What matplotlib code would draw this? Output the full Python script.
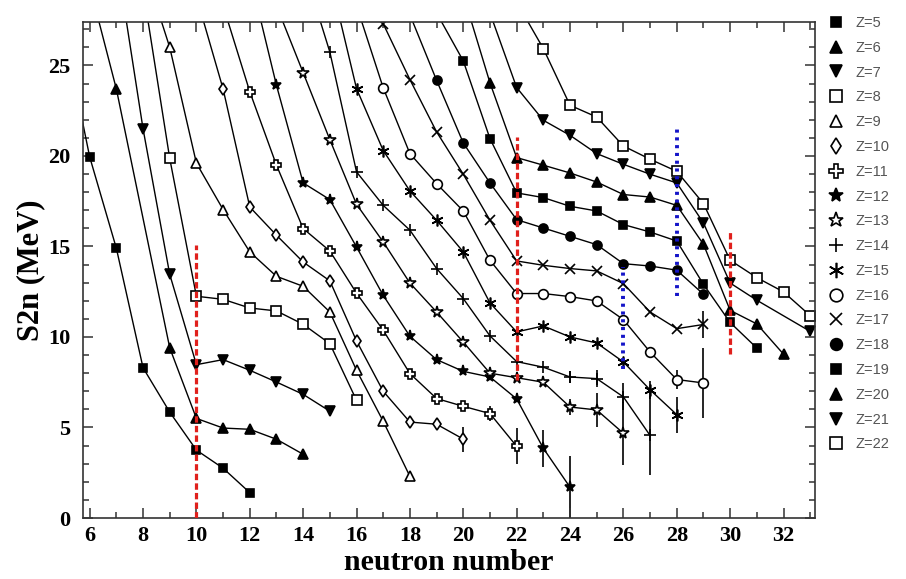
import matplotlib
matplotlib.use('Agg')
import matplotlib.pyplot as plt
from matplotlib.lines import Line2D
from matplotlib.ticker import MultipleLocator

# --- data: two-neutron separation energy vs neutron number, one isotope chain per Z ---
n5 = [5, 6, 7, 8, 9, 10, 11, 12]
z5 = [27.2, 19.95, 14.9, 8.3, 5.85, 3.75, 2.75, 1.4]
n6 = [6, 7, 9, 10, 11, 12, 13, 14]
z6 = [29.4, 23.7, 9.4, 5.5, 4.97, 4.9, 4.35, 3.52]
n7 = [7, 8, 9, 10, 11, 12, 13, 14, 15]
z7 = [31.0, 21.5, 13.46, 8.47, 8.75, 8.16, 7.51, 6.83, 5.9]
n8 = [8, 9, 10, 11, 12, 13, 14, 15, 16]
z8 = [29.2, 19.86, 12.25, 12.08, 11.6, 11.44, 10.7, 9.63, 6.5]
n9 = [8, 9, 10, 11, 12, 13, 14, 15, 16, 17, 18]
z9 = [30.6, 26.0, 19.6, 17.04, 14.7, 13.35, 12.8, 11.38, 8.16, 5.34, 2.3]
n10 = [10, 11, 12, 13, 14, 15, 16, 17, 18, 19, 20]
z10 = [28.8, 23.7, 17.18, 15.62, 14.14, 13.1, 9.78, 7.0, 5.3, 5.18, 4.36]
n11 = [11, 12, 13, 14, 15, 16, 17, 18, 19, 20, 21, 22]
z11 = [28.3, 23.55, 19.49, 15.99, 14.75, 12.42, 10.37, 7.98, 6.6, 6.17, 5.77, 3.96]
n12 = [12, 13, 14, 15, 16, 17, 18, 19, 20, 21, 22, 23, 24]
z12 = [30.0, 23.9, 18.51, 17.59, 14.97, 12.3, 10.04, 8.75, 8.1, 7.79, 6.58, 3.85, 1.7]
n13 = [13, 14, 15, 16, 17, 18, 19, 20, 21, 22, 23, 24, 25, 26]
z13 = [28.3, 24.6, 20.9, 17.33, 15.25, 12.98, 11.38, 9.72, 8.0, 7.75, 7.5, 6.13, 5.97, 4.68]
n14 = [14, 15, 16, 17, 18, 19, 20, 21, 22, 23, 24, 25, 26, 27]
z14 = [30.5, 25.74, 19.12, 17.27, 15.9, 13.78, 12.12, 10.06, 8.64, 8.33, 7.79, 7.7, 6.69, 4.56]
n15 = [15, 16, 17, 18, 19, 20, 21, 22, 23, 24, 25, 26, 27, 28]
z15 = [29.9, 23.72, 20.3, 18.07, 16.45, 14.7, 11.88, 10.28, 10.61, 10.0, 9.67, 8.62, 7.08, 5.71]
n16 = [16, 17, 18, 19, 20, 21, 22, 23, 24, 25, 26, 27, 28, 29]
z16 = [28.3, 23.76, 20.13, 18.47, 16.96, 14.24, 12.4, 12.4, 12.23, 11.99, 10.96, 9.17, 7.65, 7.46]
n17 = [17, 18, 19, 20, 21, 22, 23, 24, 25, 26, 27, 28, 29]
z17 = [27.3, 24.22, 21.33, 18.99, 16.45, 14.2, 13.96, 13.78, 13.65, 12.95, 11.38, 10.46, 10.69]
n18 = [18, 19, 20, 21, 22, 23, 24, 25, 26, 27, 28, 29]
z18 = [27.8, 24.18, 20.72, 18.51, 16.48, 16.02, 15.56, 15.1, 14.05, 13.92, 13.69, 12.36]
n19 = [19, 20, 21, 22, 23, 24, 25, 26, 27, 28, 29, 30, 31]
z19 = [27.9, 25.25, 20.96, 17.96, 17.7, 17.22, 16.96, 16.21, 15.8, 15.3, 12.91, 10.8, 9.39]
n20 = [20, 21, 22, 23, 24, 25, 26, 27, 28, 29, 30, 31, 32]
z20 = [28.9, 24.04, 19.91, 19.49, 19.06, 18.56, 17.87, 17.73, 17.27, 15.12, 11.47, 10.72, 9.05]
n21 = [21, 22, 23, 24, 25, 26, 27, 28, 29, 30, 31, 33]
z21 = [27.9, 23.78, 21.97, 21.14, 20.13, 19.54, 18.99, 18.51, 16.3, 12.98, 12.03, 10.31]
n22 = [22, 23, 24, 25, 26, 27, 28, 29, 30, 31, 32, 33, 34]
z22 = [28.5, 25.93, 22.8, 22.15, 20.55, 19.82, 19.15, 17.37, 14.24, 13.28, 12.49, 11.18, 10.1]

# error bars (Z, N, +/-)
eb_z = [10, 11, 11, 12, 12, 13, 13, 13, 14, 14, 14, 14, 15, 15, 16, 16, 17]
eb_n = [20, 21, 22, 23, 24, 24, 25, 26, 24, 25, 26, 27, 27, 28, 28, 29, 29]
eb_err = [0.69, 0.4, 1.0, 1.03, 1.7, 0.42, 0.92, 1.75, 0.32, 0.48, 0.75, 2.2, 0.5, 1.0, 0.5, 1.93, 0.75]

# shell-closure guide lines
red_n = [10, 22, 30]
red_lo = [0.0, 7.6, 9.05]
red_hi = [15.1, 21.05, 15.9]
blue_n = [26, 28]
blue_lo = [8.25, 12.25]
blue_hi = [13.87, 21.7]

series = [(5, n5, z5), (6, n6, z6), (7, n7, z7), (8, n8, z8), (9, n9, z9),
          (10, n10, z10), (11, n11, z11), (12, n12, z12), (13, n13, z13),
          (14, n14, z14), (15, n15, z15), (16, n16, z16), (17, n17, z17),
          (18, n18, z18), (19, n19, z19), (20, n20, z20), (21, n21, z21),
          (22, n22, z22)]

# marker, filled?, size
styles = {
    5: ('s', True, 6), 6: ('^', True, 6.5), 7: ('v', True, 6.5),
    8: ('s', False, 6.5), 9: ('^', False, 7), 10: ('d', False, 6.5),
    11: ('P', False, 7.5), 12: ('*', True, 8), 13: ('*', False, 8.5),
    14: ('+', True, 8), 15: ((6, 2, 0), True, 8.5), 16: ('o', False, 7),
    17: ('x', True, 6.5), 18: ('o', True, 6.5), 19: ('s', True, 6),
    20: ('^', True, 6.5), 21: ('v', True, 6.5), 22: ('s', False, 6.5),
}

serif = 'Liberation Serif'

fig = plt.figure(figsize=(9.06, 5.79), dpi=100)
ax = fig.add_axes([83 / 906, 1 - 518 / 579, 732 / 906, 496 / 579])

def mk_kw(z):
    m, filled, ms = styles[z]
    return dict(marker=m, ms=ms, mec='black', mew=1.2,
                mfc='black' if filled else 'white')

handles = []
for z, nn, vv in series:
    ax.plot(nn, vv, color='black', lw=1.0, zorder=2, **mk_kw(z))
    handles.append(Line2D([], [], ls='none', label=f'Z={z}', **mk_kw(z)))

lookup = {z: dict(zip(nn, vv)) for z, nn, vv in series}
eb_y = [lookup[z][n] for z, n in zip(eb_z, eb_n)]
ax.errorbar(eb_n, eb_y, yerr=eb_err, fmt='none', ecolor='black',
            elinewidth=1.2, capsize=0, zorder=1)

ax.vlines(red_n, red_lo, red_hi, colors='#e0201c', lw=2.3,
          linestyles=[(0, (2.0, 1.0))], zorder=4)
ax.vlines(blue_n, blue_lo, blue_hi, colors='#1414c8', lw=2.8,
          linestyles=[(0, (0.8, 1.2))], zorder=4)

ax.set_xlim(5.75, 33.18)
ax.set_ylim(0, 27.4)
ax.xaxis.set_major_locator(MultipleLocator(2))
ax.xaxis.set_minor_locator(MultipleLocator(1))
ax.yaxis.set_major_locator(MultipleLocator(5))
ax.yaxis.set_minor_locator(MultipleLocator(1))
ax.tick_params(which='both', direction='in', top=True, right=True,
               color='#333333', width=1.1)
ax.tick_params(which='major', length=7.5)
ax.tick_params(axis='x', which='major', pad=6)
ax.tick_params(axis='y', which='major', pad=9)
ax.tick_params(which='minor', length=4.5)
for lab in ax.get_xticklabels() + ax.get_yticklabels():
    lab.set_fontfamily(serif)
    lab.set_fontweight('bold')
    lab.set_fontsize(16)
for sp in ax.spines.values():
    sp.set_color('#333333')
    sp.set_linewidth(1.2)

ax.set_xlabel('neutron number', fontfamily=serif, fontweight='bold',
              fontsize=21.5, labelpad=2)
ax.set_ylabel('S2n (MeV)', fontfamily=serif, fontweight='bold',
              fontsize=22, labelpad=2)

fig.legend(handles=handles, loc='upper left',
           bbox_to_anchor=(829 / 906, 1 - 16 / 579), frameon=False,
           borderpad=0, borderaxespad=0, handlelength=1.0,
           handletextpad=0.85, labelspacing=0.74, markerscale=1.3,
           prop={'family': 'Liberation Sans', 'size': 10.5}, labelcolor='#555555')

fig.savefig('out.png', dpi=100)
